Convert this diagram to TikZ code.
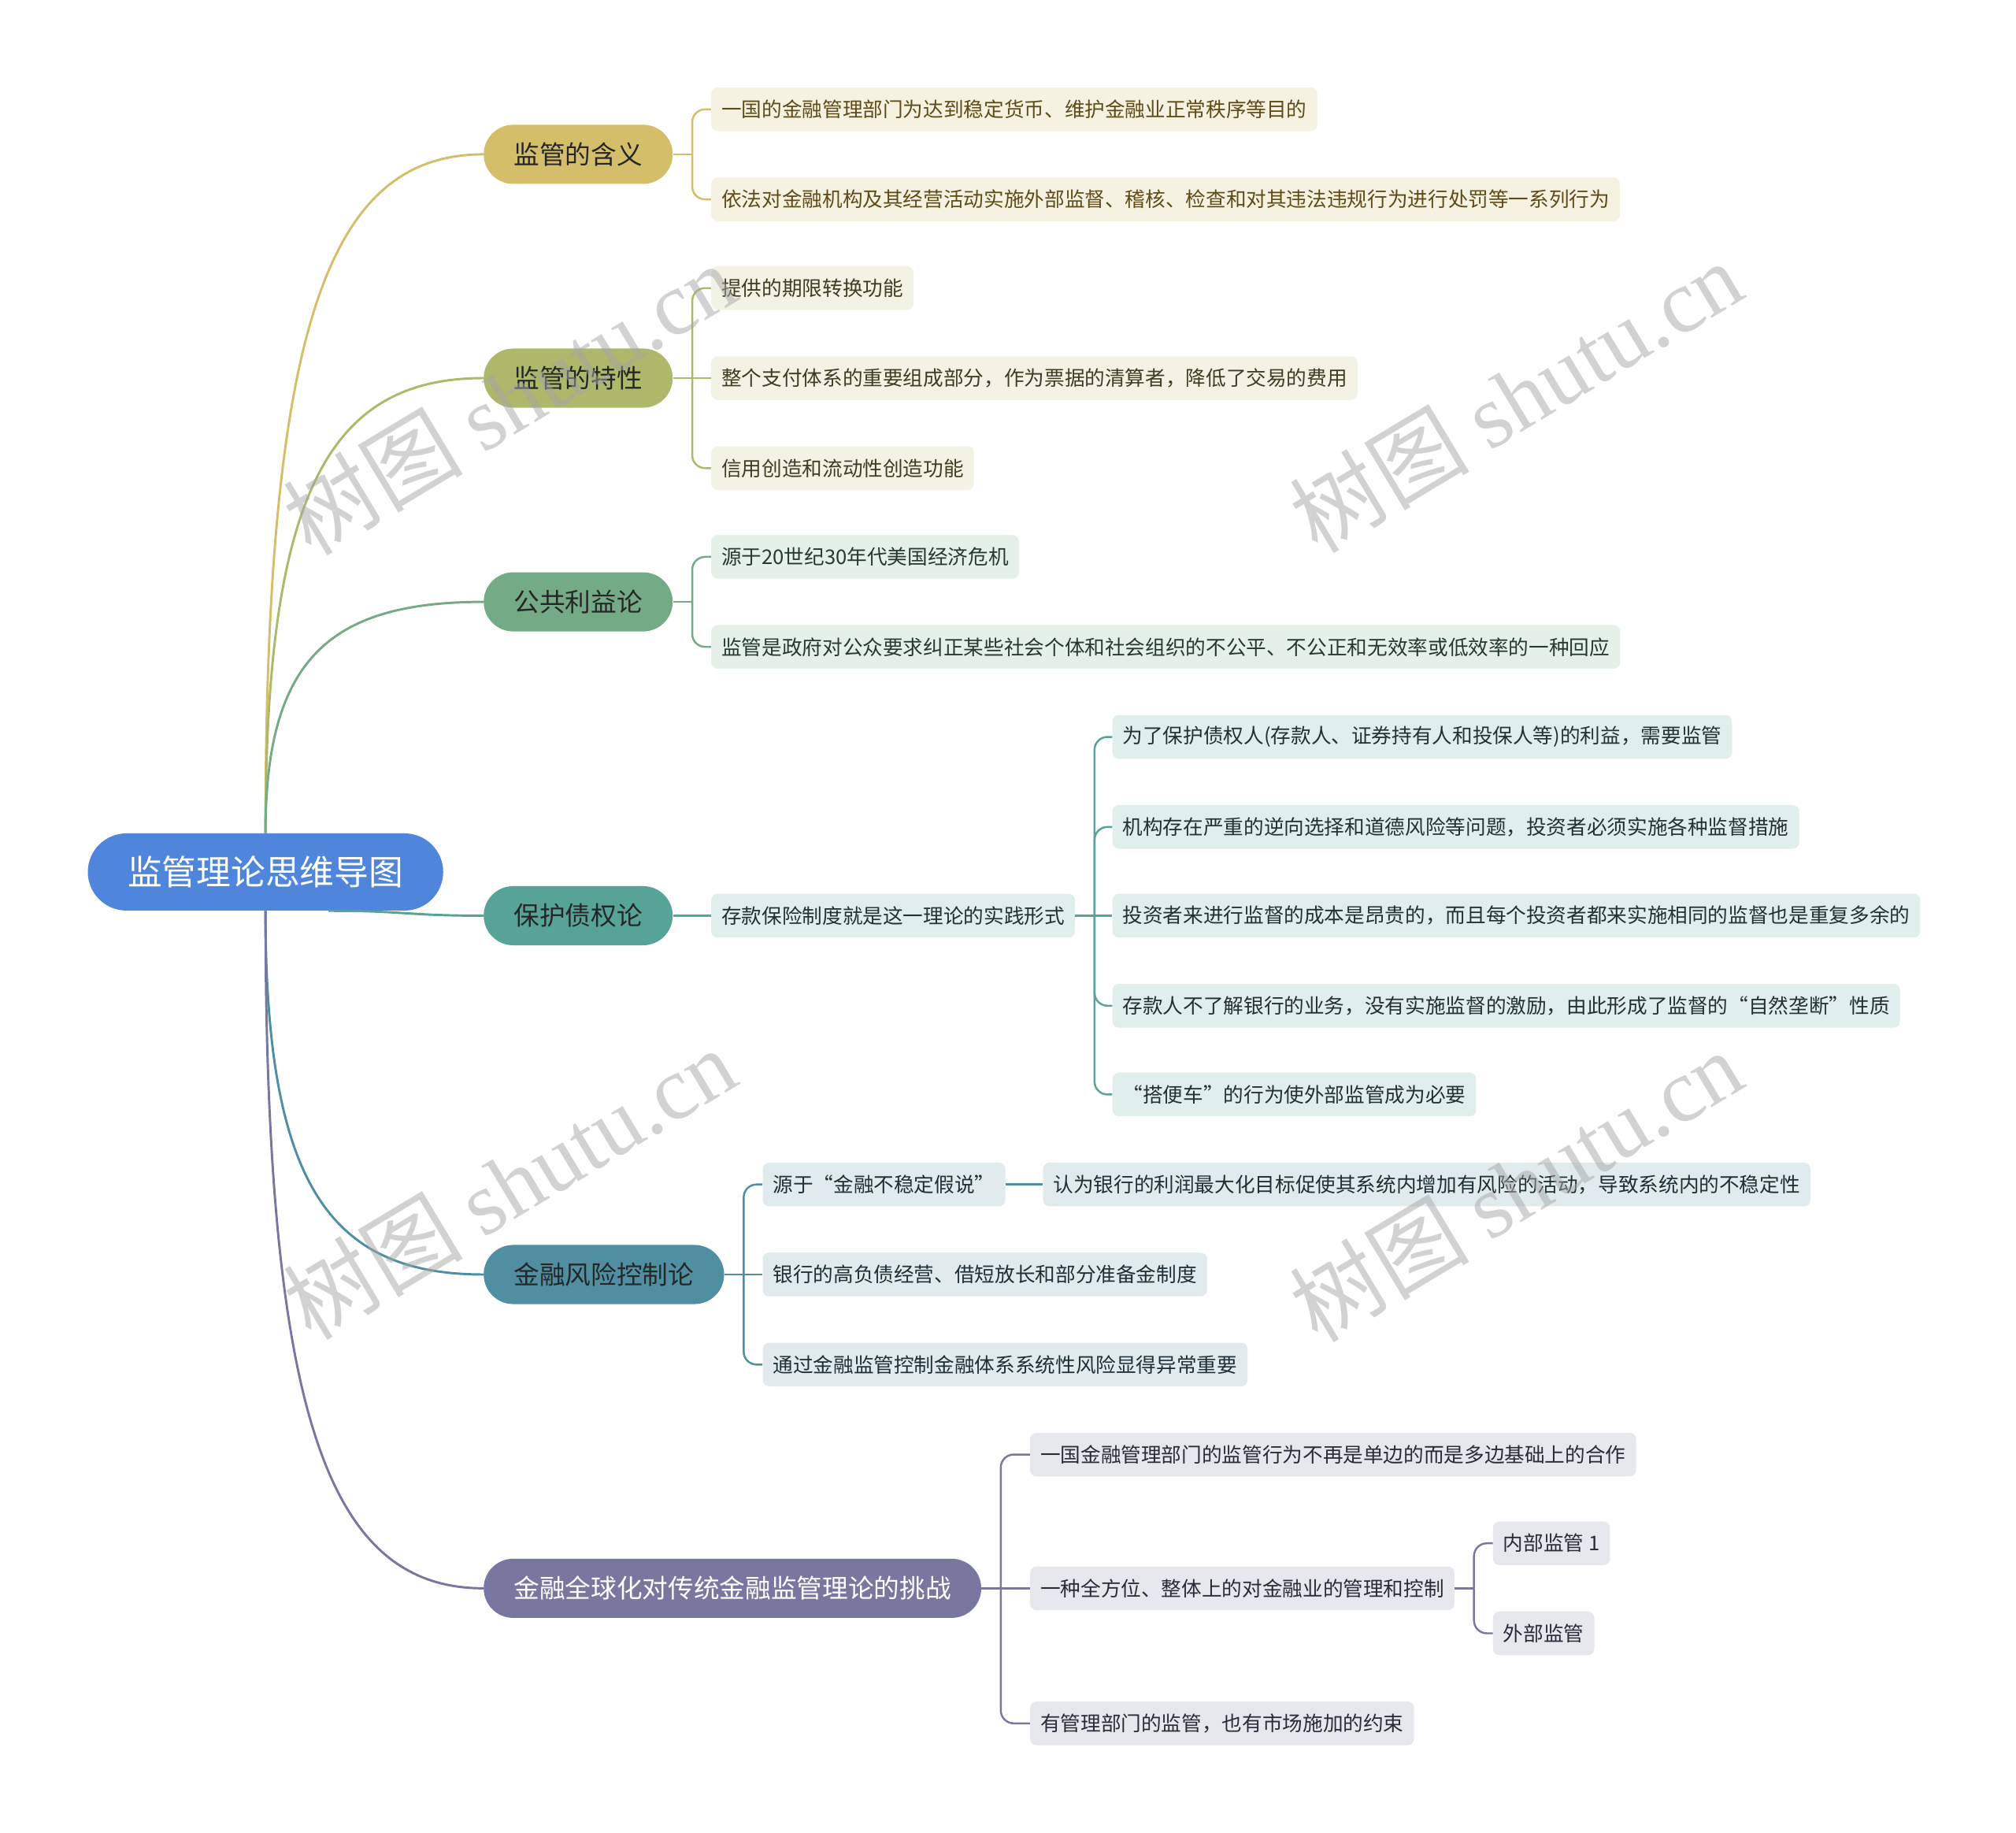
\documentclass[tikz,border=0pt]{standalone}
\usepackage{fontspec}
\setmainfont{Noto Sans CJK SC}
\newfontfamily\wmfont{Liberation Serif}
\usetikzlibrary{calc}
\definecolor{rootc}{HTML}{4F86DB}
\definecolor{colA}{HTML}{D4BE6A}
\definecolor{colB}{HTML}{ADB86B}
\definecolor{colC}{HTML}{74AA86}
\definecolor{colD}{HTML}{58A397}
\definecolor{colE}{HTML}{4F8FA1}
\definecolor{colF}{HTML}{7777A0}
\definecolor{bgA}{HTML}{F6F2E1}
\definecolor{bgB}{HTML}{F2F3E5}
\definecolor{bgC}{HTML}{E4F0E8}
\definecolor{bgD}{HTML}{E0EEEC}
\definecolor{bgE}{HTML}{E1EBEE}
\definecolor{bgF}{HTML}{E7E7EE}
\definecolor{txA}{HTML}{5E4B17}
\definecolor{txB}{HTML}{3D3D22}
\definecolor{txC}{HTML}{263A2C}
\definecolor{txD}{HTML}{21332F}
\definecolor{txE}{HTML}{1F2F36}
\definecolor{txF}{HTML}{2A2A38}
\begin{document}
\begin{tikzpicture}[x=1pt,y=-1pt,
  topic/.style={rounded corners=23pt, minimum height=46pt, inner xsep=23.5pt, inner ysep=0pt,
    font=\fontsize{20}{24}\selectfont, anchor=west, text=black!85},
  leaf/.style={rounded corners=5pt, minimum height=34pt, inner xsep=8pt, inner ysep=0pt,
    font=\fontsize{15.7}{19}\selectfont, anchor=west},
  rootlink/.style={line width=1.8pt},
  leaflink/.style={line width=1.5pt, rounded corners=10pt},
  wmark/.style={rotate=31, text=black!35, text opacity=0.5, font=\fontsize{70}{76}\selectfont}
]
\useasboundingbox (0,0) rectangle (1568,1425);

% root
\node[fill=rootc, rounded corners=30pt, minimum height=60pt, inner xsep=31pt, inner ysep=0pt,
  text=white, font=\fontsize{26.8}{32}\selectfont] (root) at (206.5,678) {监管理论思维导图};

% main topics
\node[topic, fill=colA] (a) at (376,120) {监管的含义};
\node[topic, fill=colB] (b) at (376,294) {监管的特性};
\node[topic, fill=colC] (c) at (376,468) {公共利益论};
\node[topic, fill=colD] (d) at (376,712) {保护债权论};
\node[topic, fill=colE] (e) at (376,991) {金融风险控制论};
\node[topic, fill=colF, text=white] (f) at (376,1235) {金融全球化对传统金融监管理论的挑战};

% leaves A
\node[leaf, fill=bgA, text=txA] (a1) at (553,85) {一国的金融管理部门为达到稳定货币、维护金融业正常秩序等目的};
\node[leaf, fill=bgA, text=txA] (a2) at (553,155) {依法对金融机构及其经营活动实施外部监督、稽核、检查和对其违法违规行为进行处罚等一系列行为};
% leaves B
\node[leaf, fill=bgB, text=txB] (b1) at (553,224) {提供的期限转换功能};
\node[leaf, fill=bgB, text=txB] (b2) at (553,294) {整个支付体系的重要组成部分，作为票据的清算者，降低了交易的费用};
\node[leaf, fill=bgB, text=txB] (b3) at (553,364) {信用创造和流动性创造功能};
% leaves C
\node[leaf, fill=bgC, text=txC] (c1) at (553,433) {源于20世纪30年代美国经济危机};
\node[leaf, fill=bgC, text=txC] (c2) at (553,503) {监管是政府对公众要求纠正某些社会个体和社会组织的不公平、不公正和无效率或低效率的一种回应};
% leaves D
\node[leaf, fill=bgD, text=txD] (d1) at (553,712) {存款保险制度就是这一理论的实践形式};
\node[leaf, fill=bgD, text=txD] (d1a) at (865,573) {为了保护债权人(存款人、证券持有人和投保人等)的利益，需要监管};
\node[leaf, fill=bgD, text=txD] (d1b) at (865,643) {机构存在严重的逆向选择和道德风险等问题，投资者必须实施各种监督措施};
\node[leaf, fill=bgD, text=txD] (d1c) at (865,712) {投资者来进行监督的成本是昂贵的，而且每个投资者都来实施相同的监督也是重复多余的};
\node[leaf, fill=bgD, text=txD] (d1d) at (865,782) {存款人不了解银行的业务，没有实施监督的激励，由此形成了监督的“自然垄断”性质};
\node[leaf, fill=bgD, text=txD] (d1e) at (865,851) {“搭便车”的行为使外部监管成为必要};
% leaves E
\node[leaf, fill=bgE, text=txE] (e1) at (593,921) {源于“金融不稳定假说”};
\node[leaf, fill=bgE, text=txE] (e1a) at (811,921) {认为银行的利润最大化目标促使其系统内增加有风险的活动，导致系统内的不稳定性};
\node[leaf, fill=bgE, text=txE] (e2) at (593,991) {银行的高负债经营、借短放长和部分准备金制度};
\node[leaf, fill=bgE, text=txE] (e3) at (593,1061) {通过金融监管控制金融体系系统性风险显得异常重要};
% leaves F
\node[leaf, fill=bgF, text=txF] (f1) at (801,1131) {一国金融管理部门的监管行为不再是单边的而是多边基础上的合作};
\node[leaf, fill=bgF, text=txF] (f2) at (801,1235) {一种全方位、整体上的对金融业的管理和控制};
\node[leaf, fill=bgF, text=txF] (f2a) at (1161,1200) {内部监管 1};
\node[leaf, fill=bgF, text=txF] (f2b) at (1161,1270) {外部监管};
\node[leaf, fill=bgF, text=txF] (f3) at (801,1340) {有管理部门的监管，也有市场施加的约束};

% root links
\draw[rootlink, colA] (root.north) .. controls +(0,-396) and +(-120,0) .. (a.west);
\draw[rootlink, colB] (root.north) .. controls +(0,-265) and +(-120,0) .. (b.west);
\draw[rootlink, colC] (root.north) .. controls +(0,-135) and +(-120,0) .. (c.west);
\draw[rootlink, colD] ([xshift=49pt]root.south) .. controls +(60,0) and +(-60,0) .. (d.west);
\draw[rootlink, colE] (root.south) .. controls +(0,212) and +(-120,0) .. (e.west);
\draw[rootlink, colF] (root.south) .. controls +(0,395) and +(-120,0) .. (f.west);

% junctions
\coordinate (ja) at ([xshift=15pt]a.east);
\coordinate (jb) at ([xshift=15pt]b.east);
\coordinate (jc) at ([xshift=15pt]c.east);
\coordinate (jd) at ([xshift=15pt]d1.east);
\coordinate (je) at ([xshift=15pt]e.east);
\coordinate (jf) at ([xshift=15pt]f.east);
\coordinate (jg) at ([xshift=15pt]f2.east);

% A
\draw[leaflink, colA] (a.east) -- (ja);
\draw[leaflink, colA] (ja) |- (a1.west);
\draw[leaflink, colA] (ja) |- (a2.west);
% B
\draw[leaflink, colB] (b.east) -- (b2.west);
\draw[leaflink, colB] (jb) |- (b1.west);
\draw[leaflink, colB] (jb) |- (b3.west);
% C
\draw[leaflink, colC] (c.east) -- (jc);
\draw[leaflink, colC] (jc) |- (c1.west);
\draw[leaflink, colC] (jc) |- (c2.west);
% D
\draw[leaflink, colD] (d.east) -- (d1.west);
\draw[leaflink, colD] (d1.east) -- (d1c.west);
\draw[leaflink, colD] (jd) |- (d1a.west);
\draw[leaflink, colD] (jd) |- (d1b.west);
\draw[leaflink, colD] (jd) |- (d1d.west);
\draw[leaflink, colD] (jd) |- (d1e.west);
% E
\draw[leaflink, colE] (e.east) -- (e2.west);
\draw[leaflink, colE] (je) |- (e1.west);
\draw[leaflink, colE] (je) |- (e3.west);
\draw[leaflink, colE] (e1.east) -- (e1a.west);
% F
\draw[leaflink, colF] (f.east) -- (f2.west);
\draw[leaflink, colF] (jf) |- (f1.west);
\draw[leaflink, colF] (jf) |- (f3.west);
\draw[leaflink, colF] (f2.east) -- (jg);
\draw[leaflink, colF] (jg) |- (f2a.west);
\draw[leaflink, colF] (jg) |- (f2b.west);

% watermarks
\node[wmark] (wm1) at (396,310) {树图 {\wmfont shutu.cn}};
\node[wmark] (wm2) at (1179,308) {树图 {\wmfont shutu.cn}};
\node[wmark] (wm3) at (396,920) {树图 {\wmfont shutu.cn}};
\node[wmark] (wm4) at (1179,922) {树图 {\wmfont shutu.cn}};
\end{tikzpicture}
\end{document}
